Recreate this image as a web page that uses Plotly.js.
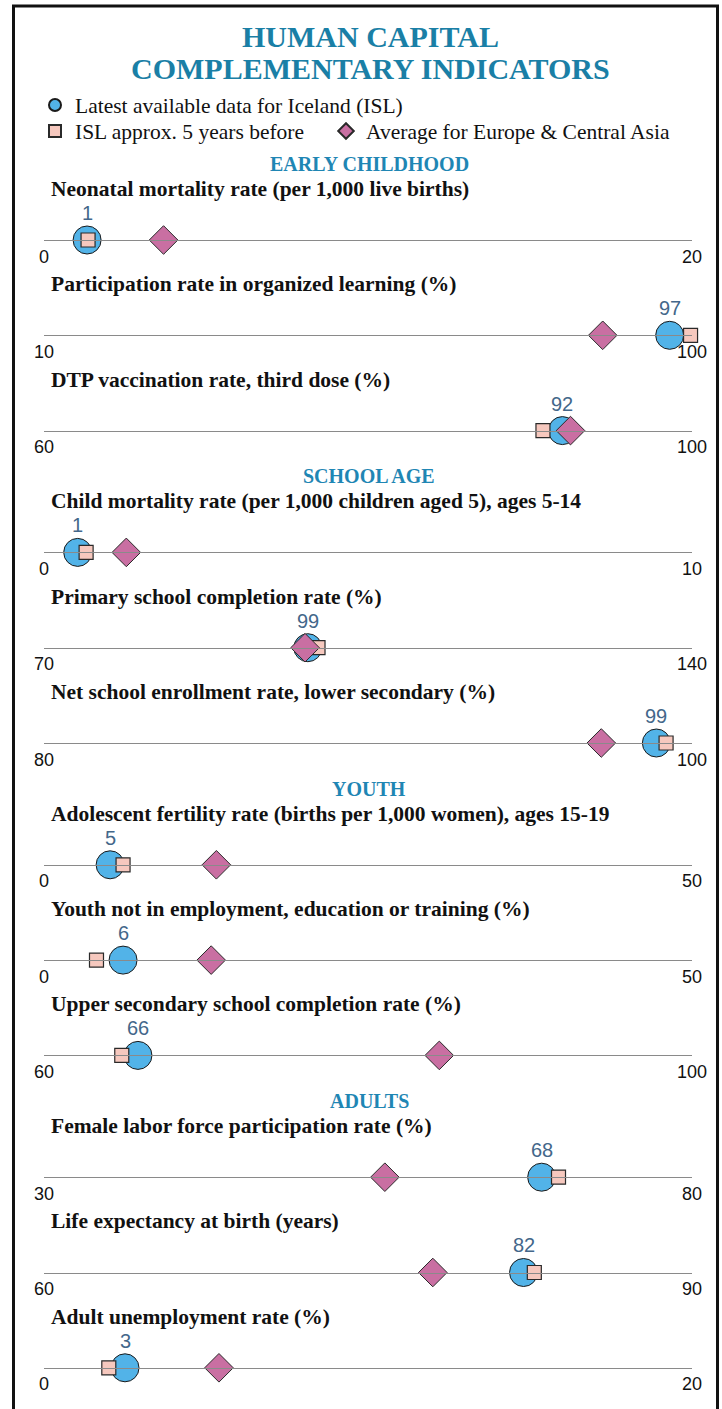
<!DOCTYPE html>
<html><head><meta charset="utf-8">
<script src="https://cdn.plot.ly/plotly-3.0.1.min.js"></script>
<style>html,body{margin:0;padding:0;background:#fff}#chart{width:722px;height:1409px}</style>
</head><body><div id="chart"></div>
<script>
// ---------------- data ----------------
const indicators = [
  "Neonatal mortality rate (per 1,000 live births)",
  "Participation rate in organized learning (%)",
  "DTP vaccination rate, third dose (%)",
  "Child mortality rate (per 1,000 children aged 5), ages 5-14",
  "Primary school completion rate (%)",
  "Net school enrollment rate, lower secondary (%)",
  "Adolescent fertility rate (births per 1,000 women), ages 15-19",
  "Youth not in employment, education or training (%)",
  "Upper secondary school completion rate (%)",
  "Female labor force participation rate (%)",
  "Life expectancy at birth (years)",
  "Adult unemployment rate (%)"
];
const sections = ["EARLY CHILDHOOD", "SCHOOL AGE", "YOUTH", "ADULTS"];
const sectionOfRow = [0,0,0,1,1,1,2,2,2,3,3,3];
const axisMin = [0, 10, 60, 0, 70, 80, 0, 0, 60, 30, 60, 0];
const axisMax = [20, 100, 100, 10, 140, 100, 50, 50, 100, 80, 90, 20];
const latestISL   = [1.33, 96.9, 92.0, 0.52, 98.5, 98.9, 5.1, 6.1, 65.8, 68.4, 82.2, 2.5];
const previousISL = [1.36, 99.8, 90.8, 0.65, 99.6, 99.2, 6.1, 4.05, 64.8, 69.7, 82.7, 2.0];
const regionAvg   = [3.69, 87.6, 92.5, 1.27, 98.2, 97.2, 13.3, 12.9, 84.4, 56.3, 78.0, 5.4];
const seriesNames = ["Latest available data for Iceland (ISL)", "ISL approx. 5 years before", "Average for Europe & Central Asia"];
const titleLines = ["HUMAN CAPITAL", "COMPLEMENTARY INDICATORS"];

// ---------------- layout helpers ----------------
const W = 722, H = 1409, ML = 44, MR = 30;
const PW = W - ML - MR;
const px2x = p => (p - ML) / PW;
const py2y = p => 1 - p / H;
const SERIF = "Liberation Serif, Times New Roman, serif";
const SANS = "Liberation Sans, Arial, sans-serif";
const TEAL = "#1a7fa6";

// vertical position of each row's axis line
const lineY = [];
(function(){
  let y = 240;
  for (let i = 0; i < indicators.length; i++) {
    if (i > 0) y += (sectionOfRow[i] !== sectionOfRow[i-1]) ? 121.8 : 95.3;
    lineY.push(y);
  }
})();

function legendAt(left, mid) {
  return {
    x: px2x(left), xanchor: "left", y: py2y(mid), yanchor: "middle",
    orientation: "h", itemsizing: "constant", borderwidth: 0, bgcolor: "rgba(0,0,0,0)",
    font: {family: SERIF, size: 21.5, color: "#111"}
  };
}

const data = [];
const layout = {
  width: W, height: H,
  margin: {l: ML, r: MR, t: 0, b: 0},
  paper_bgcolor: "#fff", plot_bgcolor: "rgba(0,0,0,0)",
  showlegend: true,
  font: {family: SANS, color: "#111"},
  annotations: [], shapes: [],
  legend: legendAt(35, 105),
  legend2: legendAt(35, 131),
  legend3: legendAt(326, 131)
};

const mk = {
  latest:  {symbol: "circle",  size: 28, color: "#52b3e8", line: {color: "#1a1a1a", width: 1}},
  previous:{symbol: "square",  size: 14, color: "#f6c8be", line: {color: "#2a2a2a", width: 1.2}},
  avg:     {symbol: "diamond", size: 22, color: "#c96fa2", line: {color: "#2a2a2a", width: 1}}
};

indicators.forEach((name, i) => {
  const k = i === 0 ? "" : String(i + 1);
  const xa = "x" + k, ya = "y" + k;
  const bottom = py2y(lineY[i]);
  layout["xaxis" + k] = {
    domain: [0, 1], anchor: ya, range: [axisMin[i], axisMax[i]],
    tickmode: "array", tickvals: [axisMin[i], axisMax[i]],
    ticktext: [String(axisMin[i]), String(axisMax[i])],
    showline: true, linecolor: "#8a8a8a", linewidth: 1,
    ticks: "inside", ticklen: 5, tickwidth: 1, tickcolor: "#8a8a8a",
    showgrid: false, zeroline: false, fixedrange: true,
    tickfont: {family: SANS, size: 18, color: "#111"}
  };
  layout["yaxis" + k] = {
    domain: [bottom, bottom + 20 / H], anchor: xa, range: [0, 1],
    visible: false, fixedrange: true
  };
  data.push({
    type: "scatter", mode: "markers", x: [latestISL[i]], y: [0], xaxis: xa, yaxis: ya,
    name: seriesNames[0], legend: "legend", showlegend: i === 0, cliponaxis: false,
    marker: mk.latest, hoverinfo: "skip"
  });
  data.push({
    type: "scatter", mode: "markers", x: [previousISL[i]], y: [0], xaxis: xa, yaxis: ya,
    name: seriesNames[1], legend: "legend2", showlegend: i === 0, cliponaxis: false,
    marker: mk.previous, hoverinfo: "skip"
  });
  data.push({
    type: "scatter", mode: "markers", x: [regionAvg[i]], y: [0], xaxis: xa, yaxis: ya,
    name: seriesNames[2], legend: "legend3", showlegend: i === 0, cliponaxis: false,
    marker: mk.avg, hoverinfo: "skip"
  });
  // row label
  layout.annotations.push({
    xref: "paper", yref: "paper", x: px2x(49), y: py2y(lineY[i] - 51),
    xanchor: "left", yanchor: "middle", showarrow: false, text: name,
    font: {family: SERIF, size: 21.5, color: "#111", weight: 700}
  });
  // value label above the latest-value circle
  layout.annotations.push({
    xref: xa, yref: ya, x: latestISL[i], y: 0, yanchor: "bottom", yshift: 14,
    showarrow: false, text: String(Math.round(latestISL[i])),
    font: {family: SANS, size: 20, color: "#43678a"}
  });
  // section header
  if (i === 0 || sectionOfRow[i] !== sectionOfRow[i-1]) {
    layout.annotations.push({
      xref: "paper", yref: "paper", x: px2x(369), y: py2y(lineY[i] - 76),
      xanchor: "center", yanchor: "middle", showarrow: false, text: sections[sectionOfRow[i]],
      font: {family: SERIF, size: 20, color: "#1f86b4", weight: 700}
    });
  }
});

// title
[36, 68].forEach((yy, j) => {
  layout.annotations.push({
    xref: "paper", yref: "paper", x: px2x(370), y: py2y(yy),
    xanchor: "center", yanchor: "middle", showarrow: false, text: titleLines[j],
    font: {family: SERIF, size: 30, color: TEAL, weight: 700}
  });
});

// frame
layout.shapes.push({
  type: "path", xref: "paper", yref: "paper", layer: "above",
  path: `M ${px2x(13.5)},${py2y(1409)} L ${px2x(13.5)},${py2y(6)} L ${px2x(717.5)},${py2y(6)} L ${px2x(717.5)},${py2y(1409)}`,
  line: {color: "#111", width: 3}
});

Plotly.newPlot("chart", data, layout, {displayModeBar: false, staticPlot: true});
</script>
</body></html>
